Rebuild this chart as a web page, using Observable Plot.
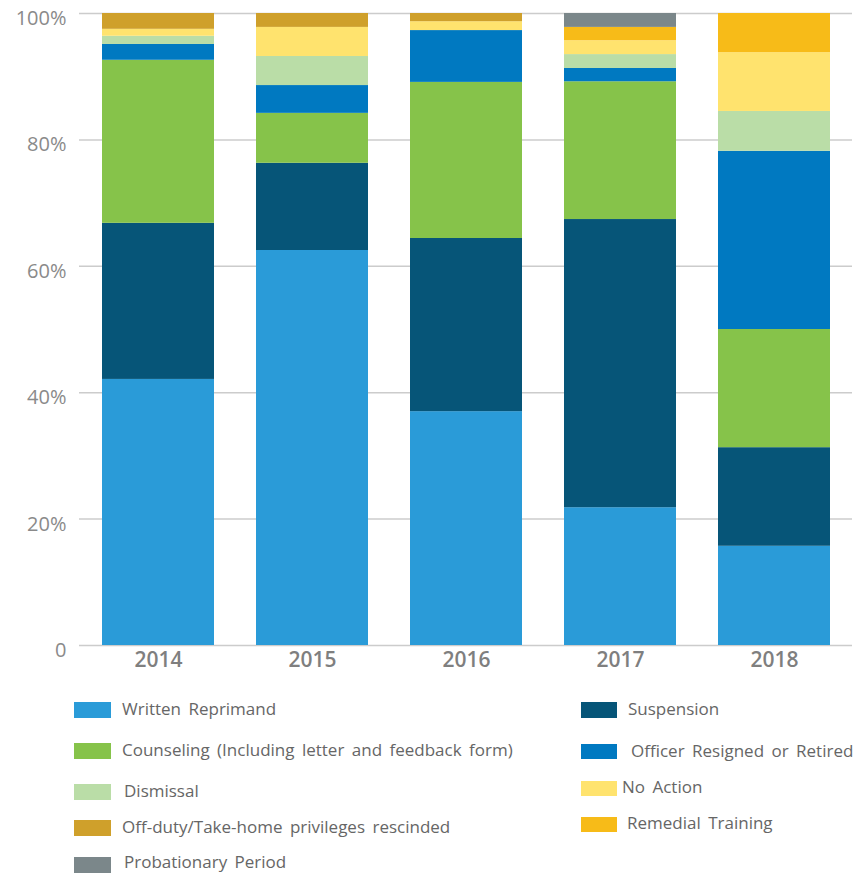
<!DOCTYPE html>
<html>
<head>
<meta charset="utf-8">
<script src="https://cdn.jsdelivr.net/npm/d3@7"></script>
<script src="https://cdn.jsdelivr.net/npm/@observablehq/plot@0.6"></script>
<style>
  html, body { margin: 0; padding: 0; background: #fff; }
  #wrap { position: relative; width: 858px; height: 875px; font-family: "Open Sans", sans-serif; }
  #chart { position: absolute; left: 0; top: 0; }
  .sw { position: absolute; }
  .lt { position: absolute; font-size: 17px; word-spacing: 3px; color: #666; line-height: 20px; white-space: nowrap; }
</style>
</head>
<body>
<div id="wrap"><div id="chart"></div></div>
<script>
const years = ["2014", "2015", "2016", "2017", "2018"];
const categories = [
  "Written Reprimand",
  "Suspension",
  "Counseling (Including letter and feedback form)",
  "Officer Resigned or Retired",
  "Dismissal",
  "No Action",
  "Off-duty/Take-home privileges rescinded",
  "Remedial Training",
  "Probationary Period"
];
const colors = ["#2a9bd8", "#065578", "#86c34a", "#0079c1", "#badda7", "#ffe36e", "#cfa02b", "#f7bb18", "#7b878a"];

// percent of outcomes per year (2014..2018)
const writtenReprimand = [42.1, 62.5, 37.0, 21.8, 15.7];
const suspension       = [24.7, 13.8, 27.4, 45.6, 15.6];
const counseling       = [25.8,  7.9, 24.7, 21.8, 18.7];
const officerResigned  = [ 2.5,  4.4,  8.2,  2.1, 28.2];
const dismissal        = [ 1.3,  4.6,  0,    2.2,  6.3];
const noAction         = [ 1.1,  4.6,  1.4,  2.2,  9.3];
const offDuty          = [ 2.5,  2.2,  1.3,  0,    0  ];
const remedialTraining = [ 0,    0,    0,    2.1,  6.2];
const probationary     = [ 0,    0,    0,    2.2,  0  ];

const yTicks = [0, 20, 40, 60, 80, 100];

const series = [writtenReprimand, suspension, counseling, officerResigned, dismissal, noAction, offDuty, remedialTraining, probationary];
const data = [];
years.forEach((yr, i) => {
  categories.forEach((c, j) => {
    if (series[j][i] > 0) data.push({year: yr, category: c, value: series[j][i]});
  });
});

const chart = Plot.plot({
  width: 858,
  height: 690,
  marginTop: 13,
  marginBottom: 45,
  marginLeft: 79,
  marginRight: 6,
  style: {fontFamily: "Open Sans, sans-serif", background: "white"},
  x: {domain: years, paddingInner: 0.273, paddingOuter: 0.137, label: null},
  y: {domain: [0, 100], label: null},
  color: {domain: categories, range: colors},
  marks: [
    Plot.gridY(yTicks, {stroke: "#cccccc", strokeOpacity: 1, strokeWidth: 1.5}),
    Plot.barY(data, {x: "year", y: "value", fill: "category", order: categories}),
    Plot.axisY(yTicks, {
      tickSize: 0, tickPadding: 13, dy: 5,
      tickFormat: d => d === 0 ? "0" : d + "%",
      fontSize: 20, fill: "#8a8a8a", label: null
    }),
    Plot.axisX({
      tickSize: 0, tickPadding: 7,
      fontSize: 21, fontWeight: 600, fill: "#7f7f7f", label: null
    })
  ]
});
document.getElementById("chart").appendChild(chart);

// legend
const legendItems = [
  {c: 0, sx: 74,  sy: 702, sw: 37, sh: 16, tx: 122, ty: 709},
  {c: 2, sx: 74,  sy: 743, sw: 37, sh: 16, tx: 122, ty: 750},
  {c: 4, sx: 74,  sy: 784, sw: 37, sh: 16, tx: 124, ty: 791},
  {c: 6, sx: 74,  sy: 820, sw: 37, sh: 16, tx: 122, ty: 827},
  {c: 8, sx: 74,  sy: 857, sw: 37, sh: 16, tx: 124, ty: 862},
  {c: 1, sx: 581, sy: 702, sw: 36, sh: 16, tx: 628, ty: 709},
  {c: 3, sx: 581, sy: 744, sw: 36, sh: 15, tx: 631, ty: 751},
  {c: 5, sx: 581, sy: 781, sw: 36, sh: 15, tx: 622, ty: 787},
  {c: 7, sx: 581, sy: 817, sw: 36, sh: 15, tx: 627, ty: 823}
];
const wrap = document.getElementById("wrap");
legendItems.forEach(it => {
  const s = document.createElement("div");
  s.className = "sw";
  s.style.left = it.sx + "px"; s.style.top = it.sy + "px";
  s.style.width = it.sw + "px"; s.style.height = it.sh + "px";
  s.style.background = colors[it.c];
  wrap.appendChild(s);
  const t = document.createElement("div");
  t.className = "lt";
  t.style.left = it.tx + "px"; t.style.top = (it.ty - 10) + "px";
  t.textContent = categories[it.c];
  wrap.appendChild(t);
});
</script>
</body>
</html>
